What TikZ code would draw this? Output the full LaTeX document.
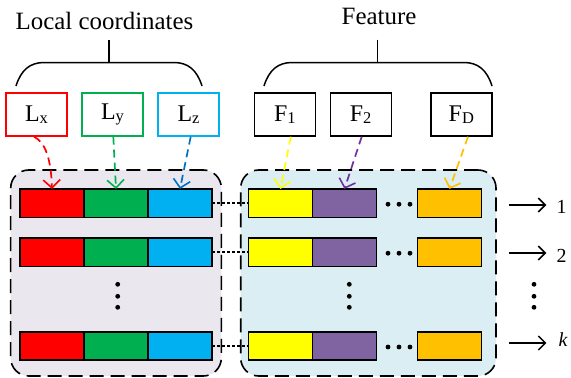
\documentclass[tikz,border=0pt]{standalone}
\usepackage{fontspec}
\setmainfont{Liberation Serif}
\usetikzlibrary{arrows.meta,calc}
\definecolor{cRed}{HTML}{FF0000}
\definecolor{cGreen}{HTML}{00B050}
\definecolor{cBlue}{HTML}{00B0F0}
\definecolor{cBlueArr}{HTML}{0070C0}
\definecolor{cYellow}{HTML}{FFFF00}
\definecolor{cPurple}{HTML}{8064A2}
\definecolor{cPurpleArr}{HTML}{7030A0}
\definecolor{cOrange}{HTML}{FFC000}
\definecolor{panelL}{HTML}{EAE7EF}
\definecolor{panelR}{HTML}{DBEEF4}
\newcommand{\mysub}[1]{\raisebox{-2.5bp}{\fontsize{16.5}{18}\selectfont #1}}
\begin{document}
\begin{tikzpicture}[x=1bp,y=-1bp,
  lbl/.style={draw, line width=1.4bp, fill=white, minimum width=61bp, minimum height=43bp, inner sep=0pt, font=\fontsize{24}{28}\selectfont},
  cell/.style={draw=black, line width=1.7bp, minimum width=64bp, minimum height=28.5bp, inner sep=0pt, outer sep=0pt},
  panel/.style={draw=black, line width=1.6bp, dash pattern=on 14bp off 7bp, rounded corners=18bp, inner sep=0pt},
  feed/.style={line width=1.7bp, dash pattern=on 8bp off 5bp, -{Straight Barb[length=8bp,width=17bp,line width=1.6bp]}},
  link/.style={line width=1.6bp, dash pattern=on 3bp off 2bp},
  outarr/.style={line width=1.5bp, -{Straight Barb[length=7bp,width=14bp]}},
  bracepath/.style={line width=1.5bp},
  idx/.style={font=\fontsize{20}{24}\selectfont, inner sep=0pt, anchor=base},
  ttl/.style={font=\fontsize{25}{30}\selectfont, inner sep=0pt, anchor=base},
  dotfill/.style={fill=black}
]
\useasboundingbox (0,0) rectangle (571,377);

% panels
\node[panel, fill=panelL, minimum width=210.6bp, minimum height=206bp] (pl) at (116,273) {};
\node[panel, fill=panelR, minimum width=255.3bp, minimum height=206bp] (pr) at (368.35,273) {};

% titles
\node[ttl] (tloc) at (104.5,29.3) {Local coordinates};
\node[ttl] (tfeat) at (379,24) {Feature};

% braces
\draw[bracepath] (109,39.5) -- (109,62.5);
\draw[bracepath] (16,86) .. controls (21,70) and (30,62.5) .. (44,62.5) -- (174,62.5) .. controls (188,62.5) and (197,70) .. (202,86);
\draw[bracepath] (377.7,39.5) -- (377.7,62.5);
\draw[bracepath] (264,86) .. controls (269,70) and (278,62.5) .. (292,62.5) -- (464,62.5) .. controls (478,62.5) and (487,70) .. (492,86);

% label boxes
\node[lbl, draw=cRed] (lx) at (36.5,114.5) {L\mysub{x}};
\node[lbl, draw=cGreen] (ly) at (112.5,114.5) {L\mysub{y}};
\node[lbl, draw=cBlue] (lz) at (188.5,114.5) {L\mysub{z}};
\node[lbl, draw=black] (f1) at (284.8,114.5) {F\mysub{1}};
\node[lbl, draw=black] (f2) at (360.7,114.5) {F\mysub{2}};
\node[lbl, draw=black] (fd) at (461.3,114.5) {F\mysub{D}};

% rows
\foreach \r/\yc in {1/203.2, 2/252.2, k/346} {
  \node[cell, fill=cRed]    (ra\r) at (52,\yc) {};
  \node[cell, fill=cGreen]  (rb\r) at (116,\yc) {};
  \node[cell, fill=cBlue]   (rc\r) at (180,\yc) {};
  \node[cell, fill=cYellow] (rd\r) at (280.5,\yc) {};
  \node[cell, fill=cPurple] (re\r) at (344.5,\yc) {};
  \node[cell, fill=cOrange] (rf\r) at (449.5,\yc) {};
  \draw[link] (rc\r.east) -- (rd\r.west);
  \foreach \dx in {388,399,410} \fill[dotfill] (\dx,\yc+1) circle (2.4bp);
}

% vertical dots
\foreach \dy in {284.3,296.3,307.3} {
  \fill[dotfill] (117.7,\dy) circle (2.4bp);
  \fill[dotfill] (349.3,\dy) circle (2.4bp);
  \fill[dotfill] (534,\dy) circle (2.4bp);
}

% feed arrows
\draw[feed, cRed] ($(lx.south)+(-2.5,0)$) .. controls (45,142) and (51,158) .. (ra1.north);
\draw[feed, cGreen] ($(ly.south)+(0.8,0)$) -- (rb1.north);
\draw[feed, cBlueArr] ($(lz.south)+(2.2,0)$) -- (rc1.north);
\draw[feed, cYellow] ($(f1.south)+(6,0)$) -- (rd1.north);
\draw[feed, cPurpleArr] ($(f2.south)+(1,0)$) -- (re1.north);
\draw[feed, cOrange] ($(fd.south)+(6.7,0)$) -- (rf1.north);

% output indices
\node[idx] (n1) at (561.5,213.3) {1};
\node[idx] (n2) at (561.5,262.7) {2};
\node[idx] (nk) at (563,346.7) {\itshape k};
\coordinate (o1) at (509,205);
\coordinate (o2) at (509,253);
\coordinate (ok) at (509,343);
\draw[outarr, shorten >=10bp] (o1) -- (o1 -| n1.west);
\draw[outarr, shorten >=10bp] (o2) -- (o2 -| n2.west);
\draw[outarr, shorten >=12bp] (ok) -- (ok -| nk.west);
\end{tikzpicture}
\end{document}
